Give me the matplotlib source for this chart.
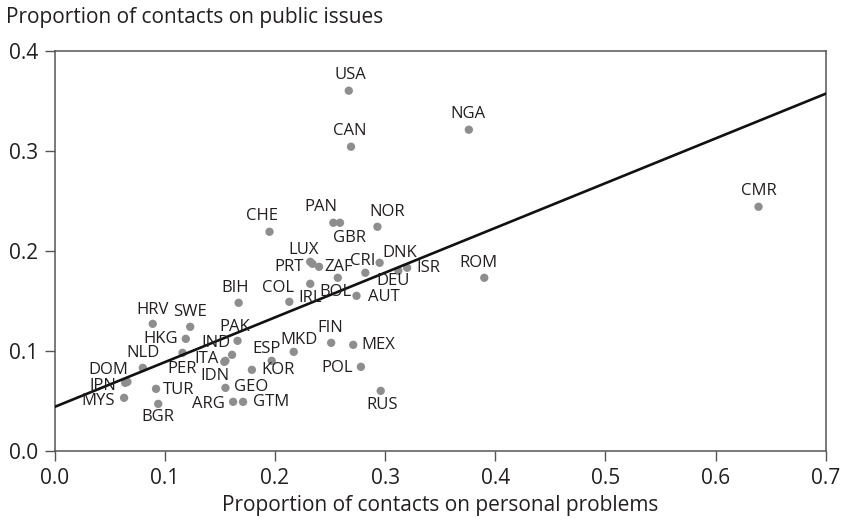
import matplotlib.pyplot as plt

# country codes and the two proportions for each one
countries = ["USA", "CAN", "NGA", "CMR", "PAN", "GBR", "NOR", "CHE", "LUX", "PRT",
             "ZAF", "DNK", "CRI", "DEU", "ISR", "ROM", "BIH", "COL", "IRL", "BOL",
             "AUT", "HRV", "SWE", "HKG", "PAK", "FIN", "MEX", "IND", "MKD", "NLD",
             "PER", "ITA", "ESP", "IDN", "KOR", "POL", "DOM", "JPN", "TUR", "GEO",
             "MYS", "ARG", "GTM", "BGR", "RUS"]
personal = [0.267, 0.269, 0.376, 0.639, 0.253, 0.259, 0.293, 0.195, 0.232, 0.234,
            0.240, 0.295, 0.282, 0.312, 0.320, 0.390, 0.167, 0.213, 0.232, 0.257,
            0.274, 0.089, 0.123, 0.119, 0.166, 0.251, 0.271, 0.161, 0.217, 0.080,
            0.116, 0.155, 0.197, 0.154, 0.179, 0.278, 0.066, 0.064, 0.092, 0.155,
            0.063, 0.162, 0.171, 0.094, 0.296]
public = [0.360, 0.304, 0.321, 0.244, 0.228, 0.228, 0.224, 0.219, 0.189, 0.187,
          0.184, 0.188, 0.178, 0.180, 0.183, 0.173, 0.148, 0.149, 0.167, 0.173,
          0.155, 0.127, 0.124, 0.112, 0.110, 0.108, 0.106, 0.096, 0.099, 0.083,
          0.098, 0.090, 0.090, 0.089, 0.081, 0.084, 0.069, 0.068, 0.062, 0.063,
          0.053, 0.049, 0.049, 0.047, 0.060]

# fitted line, ends of the x range
fit_x = [0.0, 0.7]
fit_y = [0.044, 0.357]

# label placement: (dx, dy) in pixels from the dot, and horizontal anchor
label_pos = {
    "USA": (2, 16, "center"), "CAN": (-1, 16, "center"), "NGA": (-1, 16, "center"),
    "CMR": (0, 16, "center"), "PAN": (-12, 16, "center"), "GBR": (10, -15, "center"),
    "NOR": (10, 15, "center"), "CHE": (-7, 16, "center"), "LUX": (-7, 12, "center"),
    "PRT": (-9, -3, "right"), "ZAF": (5, 0, "left"), "DNK": (20, 10, "center"),
    "CRI": (-3, 12, "center"), "DEU": (-5, -10, "center"), "ISR": (9, 0, "left"),
    "ROM": (-6, 15, "center"), "BIH": (-4, 15, "center"), "COL": (-11, 14, "center"),
    "IRL": (0, -14, "center"), "BOL": (-2, -14, "center"), "AUT": (11, -1, "left"),
    "HRV": (0, 14, "center"), "SWE": (0, 15, "center"), "HKG": (-8, 0, "right"),
    "PAK": (-3, 14, "center"), "FIN": (-1, 15, "center"), "MEX": (8, 0, "left"),
    "IND": (-16, 12, "center"), "MKD": (5, 12, "center"), "NLD": (0, 15, "center"),
    "PER": (0, -16, "center"), "ITA": (-7, 2, "right"), "ESP": (-5, 12, "center"),
    "IDN": (5, -14, "right"), "KOR": (10, 0, "left"), "POL": (-8, -1, "right"),
    "DOM": (-19, 12, "center"), "JPN": (-9, -3, "right"), "TUR": (7, -1, "left"),
    "GEO": (9, 1, "left"), "MYS": (-9, -3, "right"), "ARG": (-8, -2, "right"),
    "GTM": (10, 0, "left"), "BGR": (0, -13, "center"), "RUS": (1, -14, "center"),
}

plt.rcParams["font.family"] = ["Open Sans", "DejaVu Sans"]
txt = "#231f20"
spine = "#555555"

fig = plt.figure(figsize=(8.43, 5.23), dpi=100)
ax = fig.add_axes([0.0649, 0.1379, 0.9146, 0.7652])

ax.scatter(personal, public, s=36, color="#8e8e8e", edgecolors="none", zorder=2)
ax.plot(fit_x, fit_y, color="#111111", lw=1.9, zorder=3)

for name, xv, yv in zip(countries, personal, public):
    dx, dy, ha = label_pos[name]
    ax.annotate(name, (xv, yv), xytext=(dx, dy), textcoords="offset pixels",
                ha=ha, va="center", fontsize=12, color=txt, zorder=4)

ax.set_xlim(0, 0.7)
ax.set_ylim(0, 0.4)
ax.set_xticks([0.0, 0.1, 0.2, 0.3, 0.4, 0.5, 0.6, 0.7])
ax.set_yticks([0.0, 0.1, 0.2, 0.3, 0.4])
ax.xaxis.set_major_formatter(plt.FormatStrFormatter("%.1f"))
ax.yaxis.set_major_formatter(plt.FormatStrFormatter("%.1f"))
ax.tick_params(direction="out", length=7, width=1, color=spine,
               labelsize=15, labelcolor=txt, pad=5)

for s in ax.spines.values():
    s.set_color(spine)
    s.set_linewidth(1.1)

ax.set_xlabel("Proportion of contacts on personal problems", fontsize=15,
              color=txt, labelpad=5)
fig.text(6 / 843, 1 - 22.7 / 523, "Proportion of contacts on public issues",
         fontsize=15, color=txt, ha="left", va="baseline")

fig.savefig("out.png", dpi=100)
